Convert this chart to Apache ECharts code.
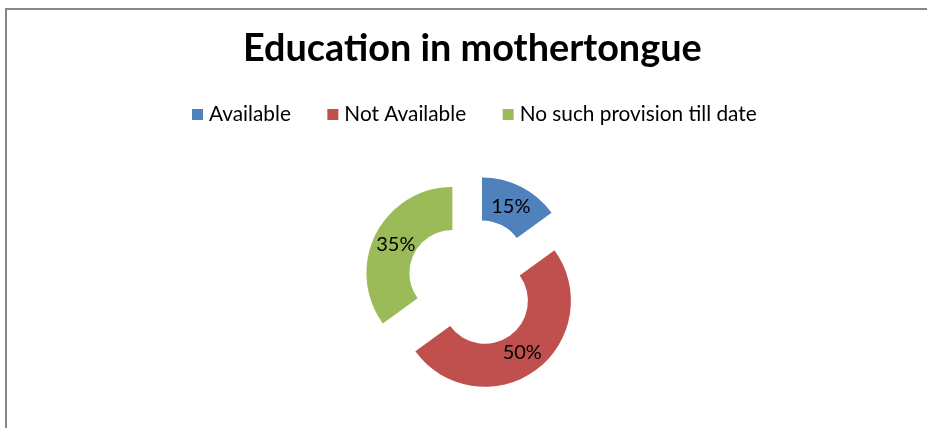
<!DOCTYPE html>
<html>
<head>
<meta charset="utf-8">
<script src="https://cdn.jsdelivr.net/npm/echarts@6/dist/echarts.min.js"></script>
<style>
html,body{margin:0;padding:0;background:#fff;}
#chart{width:927px;height:428px;}
</style>
</head>
<body>
<div id="chart"></div>
<script>
const titleText = 'Education in mothertongue';
const categories = ['Available', 'Not Available', 'No such provision till date'];
const values = [15, 50, 35];
const colors = ['#4F81BD', '#C0504D', '#9BBB59'];

const chart = echarts.init(document.getElementById('chart'), null, {renderer: 'canvas'});
const FONT = 'Lato, "Open Sans", sans-serif';

const pieBase = {
  type: 'pie',
  center: [472, 283],
  startAngle: 90,
  clockwise: true,
  selectedMode: 'multiple',
  selectedOffset: 22,
  labelLine: {show: false},
  emphasis: {disabled: true},
  silent: true
};

chart.setOption({
  animation: false,
  backgroundColor: '#ffffff',
  title: {
    text: titleText,
    left: 238,
    top: 25,
    textStyle: {fontFamily: FONT, fontWeight: 'bold', fontSize: 37.8, color: '#000'}
  },
  legend: {
    data: categories,
    left: 187,
    top: 99,
    icon: 'rect',
    itemWidth: 11,
    itemHeight: 11,
    itemGap: 36.5,
    textStyle: {fontFamily: FONT, fontSize: 20.8, color: '#000', padding: [0, 0, 0, 1]}
  },
  graphic: [{
    type: 'rect',
    shape: {x: 6, y: 9, width: 1000, height: 1000},
    style: {fill: 'none', stroke: '#868686', lineWidth: 2},
    silent: true
  }],
  series: [
    Object.assign({}, pieBase, {
      name: 'ring',
      radius: [43, 86],
      label: {show: false},
      data: categories.map((name, i) => ({
        name: name,
        value: values[i],
        selected: true,
        itemStyle: {color: colors[i]},
        select: {itemStyle: {color: colors[i]}}
      }))
    }),
    Object.assign({}, pieBase, {
      name: 'labels',
      radius: [35, 86],
      z: 3,
      label: {
        show: true,
        position: 'inside',
        formatter: '{c}%',
        fontFamily: FONT,
        fontSize: 20,
        color: '#000'
      },
      data: categories.map((name, i) => ({
        name: name,
        value: values[i],
        selected: true,
        itemStyle: {color: 'rgba(0,0,0,0)'},
        select: {itemStyle: {color: 'rgba(0,0,0,0)'}}
      }))
    })
  ]
});
</script>
</body>
</html>
